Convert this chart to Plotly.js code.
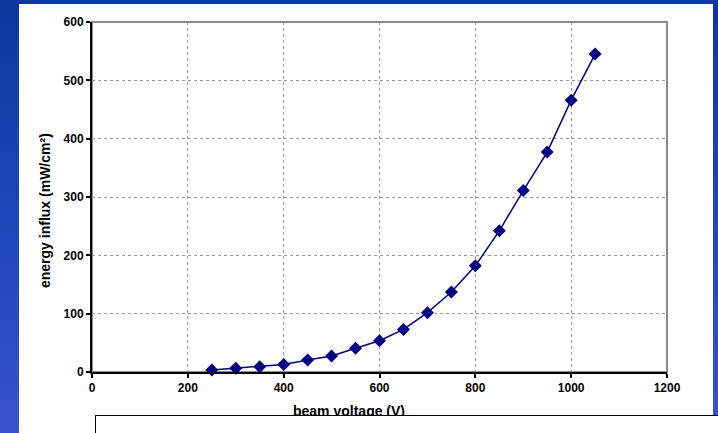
<!DOCTYPE html>
<html>
<head>
<meta charset="utf-8">
<script src="https://cdn.plot.ly/plotly-3.0.1.min.js"></script>
<style>
html,body{margin:0;padding:0;}
body{width:718px;height:433px;overflow:hidden;background:linear-gradient(180deg,#0a389e 0%,#1d47b8 50%,#3a52cc 100%);}
#chart{width:718px;height:433px;}
</style>
</head>
<body>
<div id="chart"></div>
<script>
const beamVoltage = [250, 300, 350, 400, 450, 500, 550, 600, 650, 700, 750, 800, 850, 900, 950, 1000, 1050];
const energyInflux = [3.4, 6.3, 9, 13, 20.6, 27.4, 40.6, 53.7, 73, 101.7, 137, 182, 242, 311, 377, 466, 545];
const xTicks = [0, 200, 400, 600, 800, 1000, 1200];
const yTicks = [0, 100, 200, 300, 400, 500, 600];
const xTitle = 'beam voltage (V)';
const yTitle = 'energy influx (mW/cm²)';

const fam = 'Liberation Sans, Arial, sans-serif';
const tickFont = {family: fam, size: 12, color: '#000', weight: 'bold'};
const titleFont = {family: fam, size: 14, color: '#000', weight: 'bold'};

// plot area in pixels: x 92..667, y 22..372
const L = 92, T = 22, W = 575, H = 350;
const px = v => (v - L) / W;
const py = v => (T + H - v) / H;

const trace = {
  x: beamVoltage, y: energyInflux, type: 'scatter', mode: 'lines+markers',
  line: {color: '#000080', width: 1.5},
  marker: {symbol: 'diamond', size: 10, color: '#000080'},
  cliponaxis: false, hoverinfo: 'none'
};

const layout = {
  width: 718, height: 433,
  margin: {l: L, r: 718 - L - W, t: T, b: 433 - T - H},
  paper_bgcolor: 'rgba(0,0,0,0)',
  plot_bgcolor: '#ffffff',
  showlegend: false,
  xaxis: {
    range: [0, 1200], tickvals: xTicks, ticktext: xTicks.map(String),
    showgrid: true, gridcolor: '#9a9a9a', griddash: 'dot', gridwidth: 1,
    showline: true, linecolor: '#000', linewidth: 2,
    ticks: 'outside', ticklen: 4, tickcolor: '#000', tickwidth: 2,
    tickfont: tickFont, zeroline: false
  },
  yaxis: {
    range: [0, 600], tickvals: yTicks, ticktext: yTicks.map(String),
    showgrid: true, gridcolor: '#9a9a9a', griddash: 'dot', gridwidth: 1,
    showline: true, linecolor: '#000', linewidth: 2,
    ticks: 'outside', ticklen: 4, tickcolor: '#000', tickwidth: 2,
    tickfont: tickFont, zeroline: false
  },
  shapes: [
    {type: 'rect', xref: 'paper', yref: 'paper', layer: 'below',
     x0: px(19), x1: px(713), y0: py(440), y1: py(4),
     fillcolor: '#ffffff', line: {width: 0}},
    {type: 'rect', xref: 'paper', yref: 'paper', layer: 'below',
     x0: 0, x1: 1, y0: 0, y1: 1, fillcolor: 'rgba(0,0,0,0)',
     line: {color: '#8c8c8c', width: 2}}
  ],
  annotations: [
    {xref: 'paper', yref: 'paper', x: px(348.5), y: py(411),
     xanchor: 'center', yanchor: 'middle', text: xTitle, showarrow: false, font: titleFont},
    {xref: 'paper', yref: 'paper', x: px(45), y: py(211),
     xanchor: 'center', yanchor: 'middle', text: yTitle, textangle: -90, showarrow: false, font: titleFont},
    {xref: 'paper', yref: 'paper', x: px(95), y: py(415),
     xanchor: 'left', yanchor: 'top', text: ' ', showarrow: false,
     width: 640, height: 30, bgcolor: '#ffffff', bordercolor: '#000', borderwidth: 1, borderpad: 0}
  ]
};

Plotly.newPlot('chart', [trace], layout, {displayModeBar: false, staticPlot: true});
</script>
</body>
</html>
